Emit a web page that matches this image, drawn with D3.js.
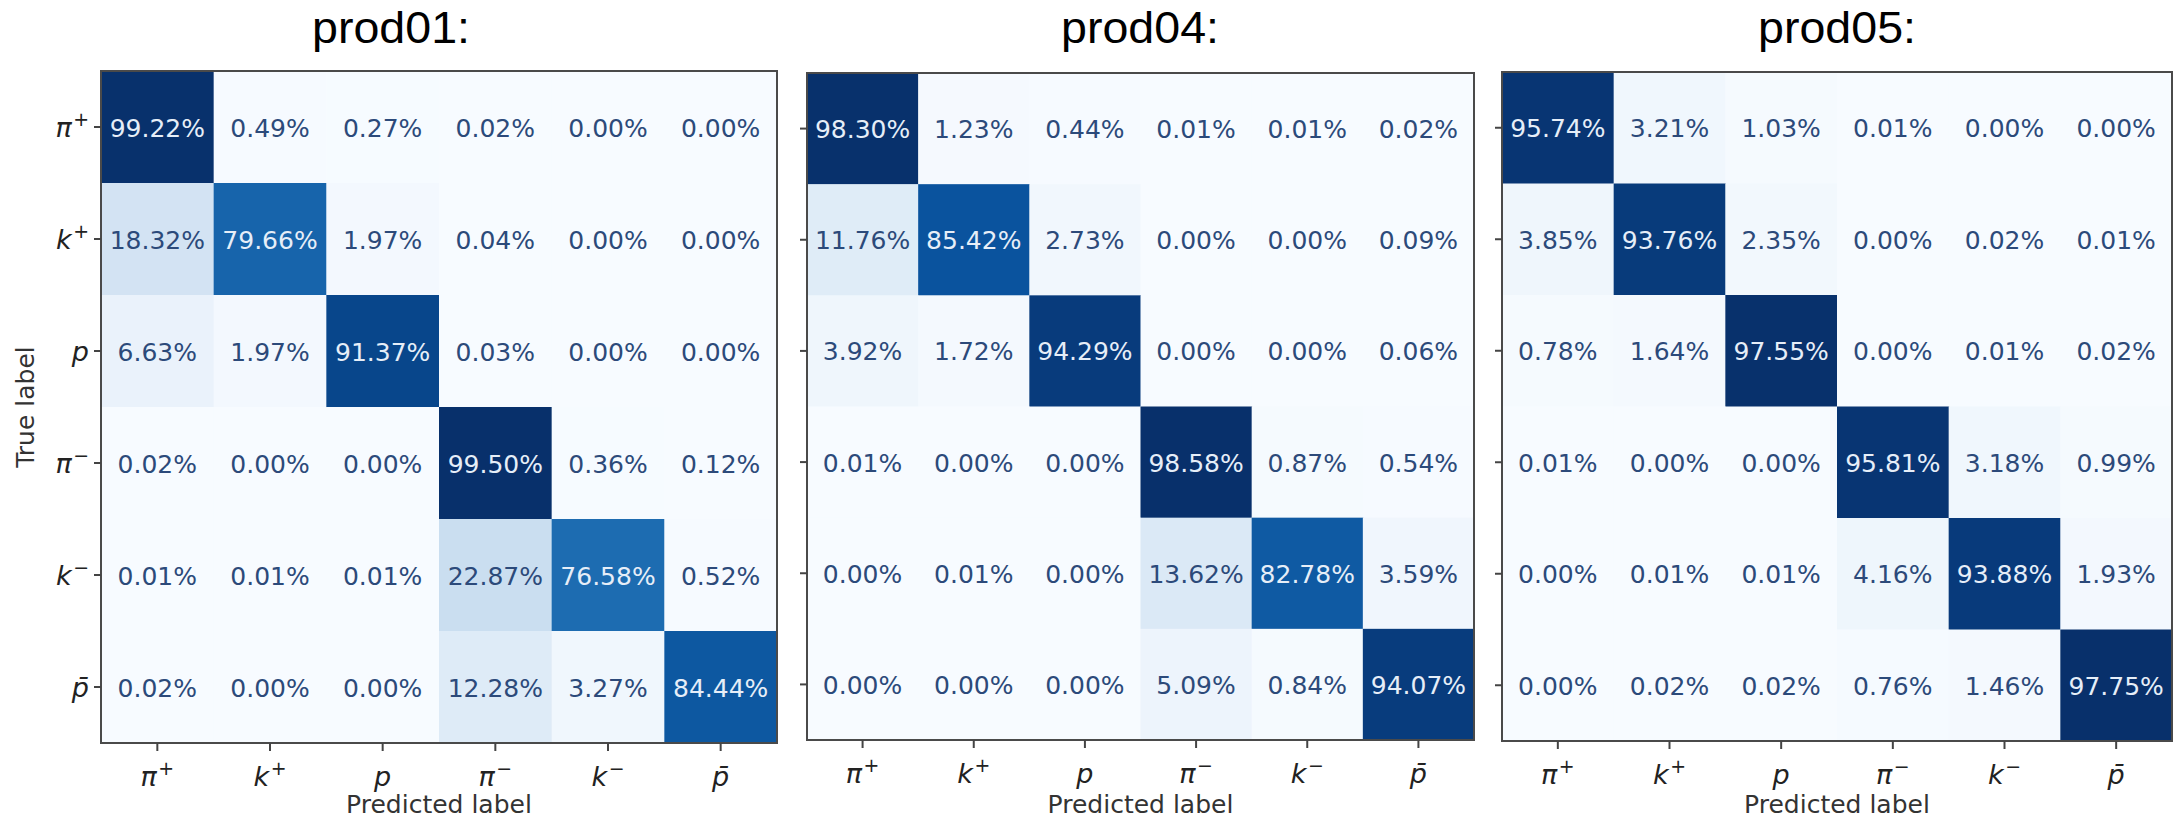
<!DOCTYPE html>
<html>
<head>
<meta charset="utf-8">
<script src="https://cdn.jsdelivr.net/npm/d3@7"></script>
<style>
  html, body { margin: 0; padding: 0; background: #ffffff; }
  svg { display: block; }
</style>
</head>
<body>
<svg id="chart" width="2177" height="821"></svg>
<script>
// Particle classes (true and predicted), written as base symbol + superscript
const classBase = ["\u03C0", "k", "p", "\u03C0", "k", "p\u0304"];
const classSup  = ["+", "+", "", "\u2212", "\u2212", ""];

// Confusion matrices in percent, rows = true label, columns = predicted label
const prod01 = [
  [99.22, 0.49, 0.27, 0.02, 0.00, 0.00],
  [18.32, 79.66, 1.97, 0.04, 0.00, 0.00],
  [6.63, 1.97, 91.37, 0.03, 0.00, 0.00],
  [0.02, 0.00, 0.00, 99.50, 0.36, 0.12],
  [0.01, 0.01, 0.01, 22.87, 76.58, 0.52],
  [0.02, 0.00, 0.00, 12.28, 3.27, 84.44]
];
const prod04 = [
  [98.30, 1.23, 0.44, 0.01, 0.01, 0.02],
  [11.76, 85.42, 2.73, 0.00, 0.00, 0.09],
  [3.92, 1.72, 94.29, 0.00, 0.00, 0.06],
  [0.01, 0.00, 0.00, 98.58, 0.87, 0.54],
  [0.00, 0.01, 0.00, 13.62, 82.78, 3.59],
  [0.00, 0.00, 0.00, 5.09, 0.84, 94.07]
];
const prod05 = [
  [95.74, 3.21, 1.03, 0.01, 0.00, 0.00],
  [3.85, 93.76, 2.35, 0.00, 0.02, 0.01],
  [0.78, 1.64, 97.55, 0.00, 0.01, 0.02],
  [0.01, 0.00, 0.00, 95.81, 3.18, 0.99],
  [0.00, 0.01, 0.01, 4.16, 93.88, 1.93],
  [0.00, 0.02, 0.02, 0.76, 1.46, 97.75]
];

const titles = ["prod01:", "prod04:", "prod05:"];
const matrices = [prod01, prod04, prod05];

// Panel frames (plot area of each heatmap)
const panels = [
  { x0: 101, x1: 777, y0: 71, y1: 743, titleX: 391, yLabels: true },
  { x0: 807, x1: 1474, y0: 73, y1: 740, titleX: 1140, yLabels: false },
  { x0: 1502, x1: 2172, y0: 72, y1: 741, titleX: 1837, yLabels: false }
];

const svg = d3.select("#chart");
svg.append("rect").attr("width", 2177).attr("height", 821).attr("fill", "#ffffff");

const idx = d3.range(classBase.length);
const blues = d3.schemeBlues[9];
const FONT = "'DejaVu Sans', sans-serif";

function writeMathLabel(textSel, i) {
  textSel.text(null);
  textSel.append("tspan").text(classBase[i]);
  if (classSup[i]) {
    textSel.append("tspan")
      .attr("font-size", "0.7em")
      .attr("dy", "-0.55em")
      .attr("dx", "0.08em")
      .text(classSup[i]);
  }
}

panels.forEach((p, k) => {
  const m = matrices[k];
  const flat = m.flat();
  const vmin = d3.min(flat), vmax = d3.max(flat);
  // Linear "Blues" colour map stretched over the matrix range
  const color = d3.scaleLinear()
    .domain(d3.range(9).map(i => vmin + (vmax - vmin) * i / 8))
    .range(blues)
    .interpolate(d3.interpolateRgb);
  const thresh = (vmin + vmax) / 2;

  const x = d3.scaleBand().domain(idx).range([p.x0, p.x1]);
  const y = d3.scaleBand().domain(idx).range([p.y0, p.y1]);

  const g = svg.append("g");

  // cells
  const cells = [];
  m.forEach((row, r) => row.forEach((v, c) => cells.push({ r, c, v })));
  g.selectAll("rect.cell").data(cells).join("rect")
    .attr("class", "cell")
    .attr("x", d => x(d.c))
    .attr("y", d => y(d.r))
    .attr("width", x.bandwidth() + 0.5)
    .attr("height", y.bandwidth() + 0.5)
    .attr("fill", d => color(d.v));

  // value annotations
  g.selectAll("text.val").data(cells).join("text")
    .attr("class", "val")
    .attr("x", d => x(d.c) + x.bandwidth() / 2)
    .attr("y", d => y(d.r) + y.bandwidth() / 2)
    .attr("dy", "0.38em")
    .attr("text-anchor", "middle")
    .attr("font-family", FONT)
    .attr("font-size", 25)
    .attr("fill", d => d.v > thresh ? "#e6eef8" : "#2c4a7a")
    .text(d => d.v.toFixed(2) + "%");

  // frame
  g.append("rect")
    .attr("x", p.x0).attr("y", p.y0)
    .attr("width", p.x1 - p.x0).attr("height", p.y1 - p.y0)
    .attr("fill", "none")
    .attr("stroke", "#4a4a4a")
    .attr("stroke-width", 2);

  // x axis
  const xAxis = d3.axisBottom(x).tickSize(8).tickPadding(9);
  const gx = g.append("g")
    .attr("transform", `translate(0,${p.y1})`)
    .call(xAxis);
  gx.select(".domain").remove();
  gx.selectAll(".tick line").attr("stroke", "#444").attr("stroke-width", 2);
  gx.selectAll(".tick text")
    .attr("font-family", FONT)
    .attr("font-style", "italic")
    .attr("font-size", 27)
    .attr("fill", "#222")
    .attr("dy", "0.95em")
    .each(function(d) { writeMathLabel(d3.select(this), d); });

  // y axis
  const yAxis = d3.axisLeft(y).tickSize(7).tickPadding(5);
  const gy = g.append("g")
    .attr("transform", `translate(${p.x0},0)`)
    .call(yAxis);
  gy.select(".domain").remove();
  gy.selectAll(".tick line").attr("stroke", "#444").attr("stroke-width", 2);
  if (p.yLabels) {
    gy.selectAll(".tick text")
      .attr("font-family", FONT)
      .attr("font-style", "italic")
      .attr("font-size", 27)
      .attr("fill", "#222")
      .attr("dy", "0.36em")
      .each(function(d) { writeMathLabel(d3.select(this), d); });
  } else {
    gy.selectAll(".tick text").remove();
  }

  // axis titles
  g.append("text")
    .attr("x", (p.x0 + p.x1) / 2)
    .attr("y", 813)
    .attr("text-anchor", "middle")
    .attr("font-family", FONT)
    .attr("font-size", 25)
    .attr("fill", "#333")
    .text("Predicted label");

  if (p.yLabels) {
    g.append("text")
      .attr("transform", `translate(34,${(p.y0 + p.y1) / 2}) rotate(-90)`)
      .attr("text-anchor", "middle")
      .attr("font-family", FONT)
      .attr("font-size", 25)
      .attr("fill", "#333")
      .text("True label");
  }

  // panel title
  svg.append("text")
    .attr("x", p.titleX)
    .attr("y", 43)
    .attr("text-anchor", "middle")
    .attr("font-family", "'Liberation Sans', Arial, sans-serif")
    .attr("font-size", 44)
    .attr("textLength", 158)
    .attr("lengthAdjust", "spacingAndGlyphs")
    .attr("fill", "#000")
    .text(titles[k]);
});
</script>
</body>
</html>
